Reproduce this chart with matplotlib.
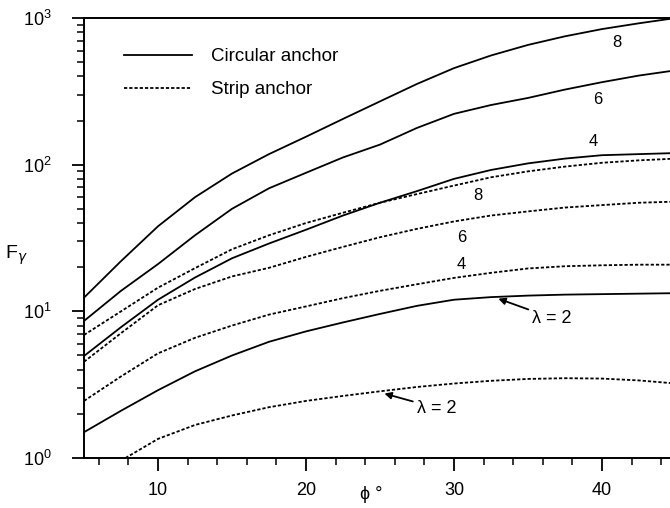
import matplotlib
matplotlib.use("Agg")
import matplotlib.pyplot as plt
from matplotlib.ticker import FixedLocator, LogLocator, NullFormatter

plt.rcParams['font.family'] = ['Liberation Sans', 'DejaVu Sans']

phi = [5, 7.5, 10, 12.5, 15, 17.5, 20, 22.5, 25, 27.5, 30, 32.5, 35, 37.5, 40, 42.5, 45]

# circular anchor, lambda = 2, 4, 6, 8
circ_2 = [1.50, 2.1, 2.9, 3.9, 5.0, 6.2, 7.3, 8.4, 9.6, 10.9, 12.0, 12.5, 12.8, 13.0, 13.1, 13.2, 13.3]
circ_4 = [4.96, 7.8, 12.0, 17.0, 23.0, 29.0, 36.0, 45.0, 55.0, 66.0, 80.0, 92.0, 102, 110, 116, 118, 120]
circ_6 = [8.6, 13.8, 21.0, 33.0, 50.0, 69.0, 88.0, 112, 137, 178, 222, 255, 285, 325, 365, 405, 440]
circ_8 = [12.4, 22.0, 38.0, 60.0, 87.0, 118, 155, 205, 270, 355, 455, 555, 655, 750, 840, 920, 1000]

# strip anchor, lambda = 2, 4, 6, 8
phi_s2 = [7.8, 10, 12.5, 15, 17.5, 20, 22.5, 25, 27.5, 30, 32.5, 35, 37.5, 40, 42.5, 45]
strip_2 = [1.0, 1.35, 1.68, 1.95, 2.22, 2.45, 2.65, 2.85, 3.05, 3.22, 3.36, 3.46, 3.50, 3.48, 3.38, 3.22]
strip_4 = [2.45, 3.6, 5.17, 6.6, 8.0, 9.5, 10.8, 12.3, 13.8, 15.3, 16.9, 18.3, 19.6, 20.3, 20.6, 20.8, 20.8]
strip_6 = [4.53, 7.1, 11.0, 14.2, 17.3, 19.8, 23.5, 27.5, 32.0, 36.5, 41.0, 45.0, 48.0, 51.0, 53.0, 55.0, 56.0]
strip_8 = [6.9, 10.0, 14.5, 19.7, 26.5, 33.0, 40.0, 47.0, 55.0, 63.0, 72.0, 82.0, 90.0, 97.0, 103, 107, 110]

fig = plt.figure(figsize=(6.7, 5.08), dpi=100)
ax = fig.add_axes([0.1254, 0.0984, 0.8746, 0.8662])

lw = 1.3
dots = (0, (1.8, 1.1))
ax.plot(phi, circ_8, color='black', lw=lw, label='Circular anchor')
ax.plot(phi, circ_6, color='black', lw=lw)
ax.plot(phi, circ_4, color='black', lw=lw)
ax.plot(phi, circ_2, color='black', lw=lw)
ax.plot(phi, strip_8, color='black', lw=lw, ls=dots, label='Strip anchor')
ax.plot(phi, strip_6, color='black', lw=lw, ls=dots)
ax.plot(phi, strip_4, color='black', lw=lw, ls=dots)
ax.plot(phi_s2, strip_2, color='black', lw=lw, ls=dots)

ax.set_yscale('log')
ax.set_xlim(5, 44.6)
ax.set_ylim(1, 1000)

ax.xaxis.set_major_locator(FixedLocator([10, 20, 30, 40]))
ax.xaxis.set_minor_locator(FixedLocator([6, 8, 12, 14, 16, 18, 22, 24, 26, 28, 32, 34, 36, 38, 42, 44]))
ax.yaxis.set_minor_locator(LogLocator(base=10, subs=range(2, 10)))
ax.yaxis.set_minor_formatter(NullFormatter())

ax.tick_params(axis='both', which='major', direction='out', length=9, width=1.3, labelsize=13, colors='black')
ax.tick_params(axis='both', which='minor', direction='out', length=5, width=1.1)
ax.tick_params(axis='x', which='major', pad=8)
ax.tick_params(axis='y', which='major', pad=14)

for side in ['left', 'bottom', 'top']:
    ax.spines[side].set_linewidth(1.4)
ax.spines['right'].set_visible(False)

ax.set_xlabel('ϕ °', fontsize=13, va='center')
ax.xaxis.set_label_coords(0.49, -0.082)
ax.set_ylabel(r'F$_\gamma$', fontsize=14, rotation=0, va='center', ha='center')
ax.yaxis.set_label_coords(-0.115, 0.46)

leg = ax.legend(loc='upper left', bbox_to_anchor=(0.04, 0.97), frameon=False,
                fontsize=13.5, handlelength=3.6, handletextpad=1.0, labelspacing=0.85)

# curve numbers
ax.text(41.0, 685, '8', fontsize=12, ha='center', va='center')
ax.text(39.7, 280, '6', fontsize=12, ha='center', va='center')
ax.text(39.4, 143, '4', fontsize=12, ha='center', va='center')
ax.text(31.6, 62, '8', fontsize=12, ha='center', va='center')
ax.text(30.5, 32.1, '6', fontsize=12, ha='center', va='center')
ax.text(30.5, 20.7, '4', fontsize=12, ha='center', va='center')

arrow = dict(arrowstyle='-|>', color='black', lw=1.3, mutation_scale=10, shrinkA=1, shrinkB=0)
ax.annotate('λ = 2', xy=(33.0, 12.2), xytext=(35.3, 9.0), fontsize=13,
            ha='left', va='center', arrowprops=arrow)
ax.annotate('λ = 2', xy=(25.3, 2.75), xytext=(27.5, 2.19), fontsize=13,
            ha='left', va='center', arrowprops=arrow)

fig.savefig('out.png', dpi=100)
